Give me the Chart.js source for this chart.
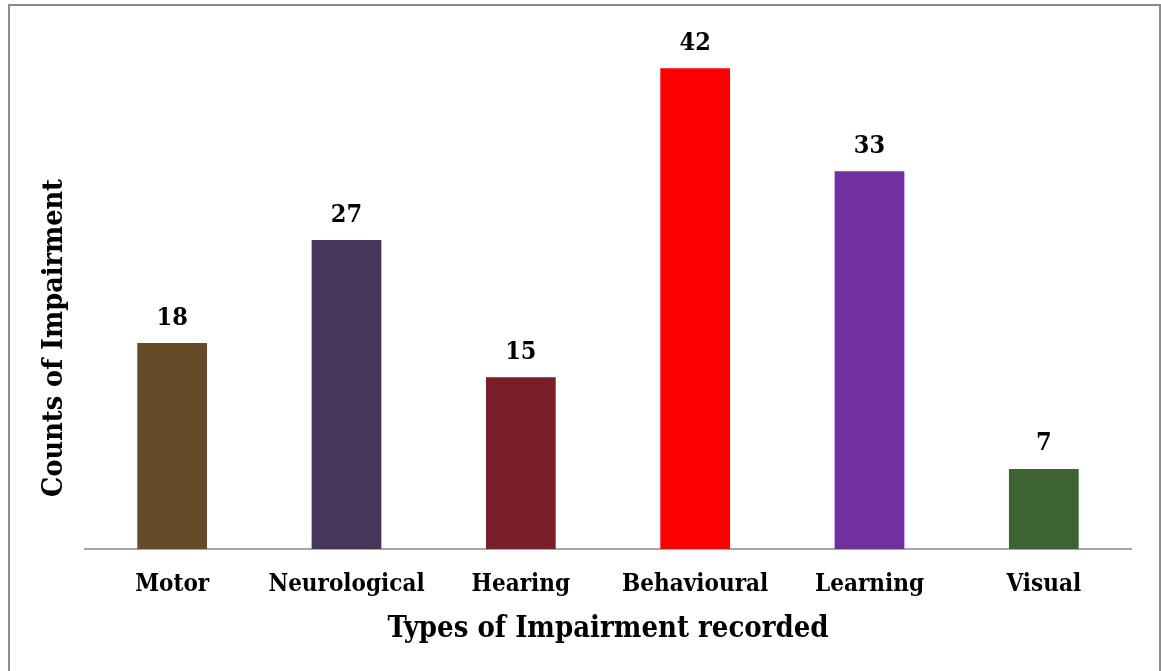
<!DOCTYPE html>
<html>
<head>
<meta charset="utf-8">
<script src="https://cdn.jsdelivr.net/npm/chart.js@4.4.1/dist/chart.umd.min.js"></script>
<style>
  html, body { margin: 0; padding: 0; background: #ffffff; overflow: hidden; }
  #wrap { position: relative; width: 1161px; height: 671px; overflow: hidden; }
  #frame { position: absolute; left: 8px; top: 4px; width: 1149px; height: 700px; border: 2px solid #8c8c8c; box-sizing: content-box; pointer-events: none; }
  canvas { position: absolute; left: 0; top: 0; }
</style>
</head>
<body>
<div id="wrap">
  <canvas id="c" width="1161" height="671"></canvas>
  <div id="frame"></div>
</div>
<script>
const categories = ['Motor', 'Neurological', 'Hearing', 'Behavioural', 'Learning', 'Visual'];
const counts = [18, 27, 15, 42, 33, 7];
const barColors = ['#664c26', '#48365a', '#7a1f2a', '#ff0000', '#7030a0', '#3c6331'];
const yAxisMax = 45;

const FONT = '"DejaVu Serif Condensed", "DejaVu Serif", "Liberation Serif", serif';

// value printed above each bar
const valueLabels = {
  id: 'valueLabels',
  afterDatasetsDraw(chart) {
    const ctx = chart.ctx;
    const meta = chart.getDatasetMeta(0);
    ctx.save();
    ctx.font = 'bold 25px ' + FONT;
    ctx.fillStyle = '#000';
    ctx.textAlign = 'center';
    ctx.textBaseline = 'middle';
    meta.data.forEach((bar, i) => {
      ctx.fillText(String(chart.data.datasets[0].data[i]), bar.x, bar.y - 25);
    });
    ctx.restore();
  }
};

// vertical axis caption
const yTitle = {
  id: 'yTitle',
  afterDraw(chart) {
    const ctx = chart.ctx;
    ctx.save();
    ctx.translate(55, 338);
    ctx.rotate(-Math.PI / 2);
    ctx.font = 'bold 28.5px ' + FONT;
    ctx.fillStyle = '#000';
    ctx.textAlign = 'center';
    ctx.textBaseline = 'middle';
    ctx.fillText('Counts of Impairment', 0, 0);
    ctx.restore();
  }
};

new Chart(document.getElementById('c'), {
  type: 'bar',
  data: {
    labels: categories,
    datasets: [{
      data: counts,
      backgroundColor: barColors,
      borderWidth: 0,
      categoryPercentage: 1,
      barPercentage: 0.4
    }]
  },
  options: {
    responsive: false,
    animation: false,
    devicePixelRatio: 1,
    layout: { padding: { left: 85, right: 30, top: 34, bottom: 0 } },
    plugins: { legend: { display: false }, tooltip: { enabled: false } },
    scales: {
      x: {
        grid: { display: false, drawTicks: false },
        border: { display: true, color: '#a6a6a6', width: 2 },
        ticks: { color: '#000', padding: 21, font: { family: FONT, size: 24, weight: 'bold' } },
        title: {
          display: true,
          text: 'Types of Impairment recorded',
          color: '#000',
          font: { family: FONT, size: 29, weight: 'bold' },
          padding: { top: 0, bottom: 24 }
        },
        afterFit(scale) { scale.height = 122; }
      },
      y: { display: false, min: 0, max: yAxisMax }
    }
  },
  plugins: [valueLabels, yTitle]
});
</script>
</body>
</html>
